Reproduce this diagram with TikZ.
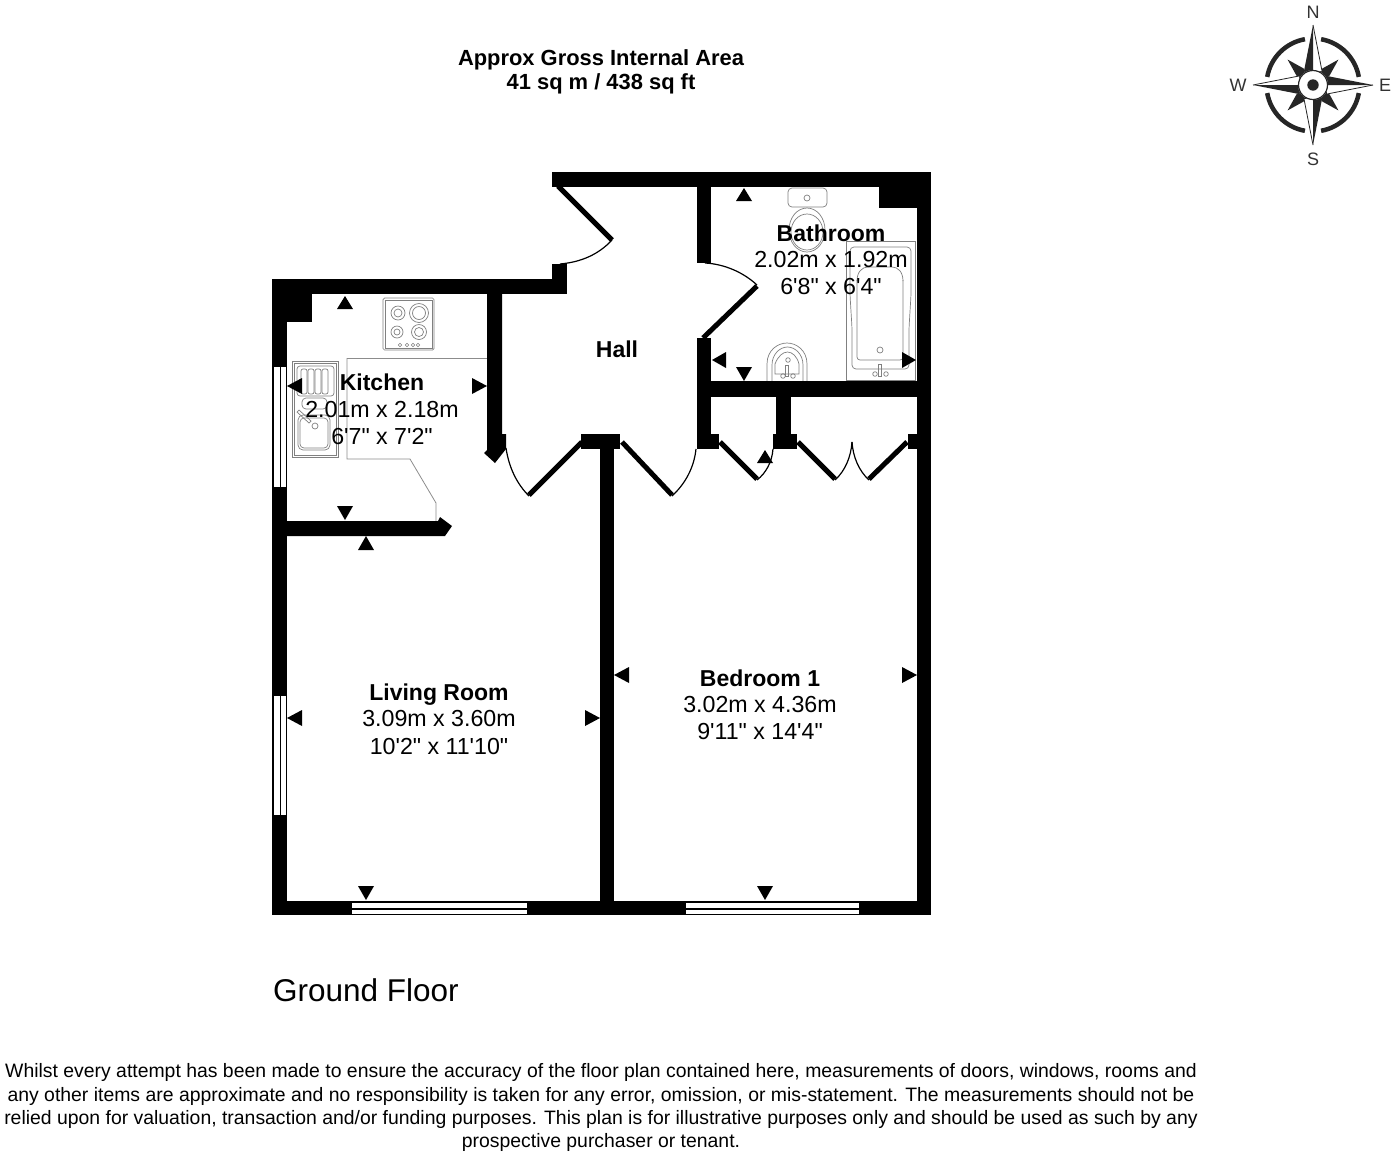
\documentclass[tikz,border=0pt]{standalone}
\usepackage{fontspec}
\setmainfont{Liberation Sans}[Ligatures=TeXOff]
\newcommand{\fs}[1]{\fontsize{#1}{#1}\selectfont}
\newcommand{\mkr}[6]{\fill[marker] (#1,#2) -- (#3,#4) -- (#5,#6) -- cycle;}
\tikzset{
  marker/.style={fill=black},
  wall/.style={fill=black},
  fixture/.style={draw=black!50,line width=0.7pt,fill=none},
  counter/.style={draw=black!45,line width=0.8pt},
  leaf/.style={draw=black,line width=5pt,line cap=butt},
  swing/.style={draw=black,line width=1.2pt},
  glass/.style={fill=white},
  roomname/.style={font=\bfseries\fs{23},anchor=base,inner sep=0pt},
  roomsize/.style={font=\fs{23.2},anchor=base,inner sep=0pt},
  compassletter/.style={font=\fs{18},text=black!80,inner sep=0pt},
  headline/.style={font=\bfseries\fs{21.9},anchor=base,inner sep=0pt},
  fine/.style={font=\fs{19.4},anchor=base,inner sep=0pt},
}
\definecolor{cdark}{HTML}{262626}
\begin{document}
\begin{tikzpicture}[x=1pt,y=-1pt]
\useasboundingbox (0,0) rectangle (1392,1160);
\fill[white] (0,0) rectangle (1392,1160);

% --- fixtures ---
\draw[counter] (347,358) -- (487,358);
\draw[counter] (347,358) -- (347,459) -- (410,459) -- (436,503) -- (436,521);
% hob
\draw[fixture,rounded corners=1.5pt] (383,298) rectangle (434,350);
\draw[fixture] (385,300) rectangle (432,348);
\foreach \cx/\cy/\r in {398/313/7,419/313/9.5,397/332/6,419/332/7.5}{
  \draw[fixture] (\cx,\cy) circle (\r);
  \draw[fixture] (\cx,\cy) circle (\r-3);
}
\foreach \cx in {400,407,413,418}{\draw[fixture,line width=0.5pt] (\cx,345) circle (1.8);}
% sink
\draw[fixture] (292,361) rectangle (338,457);
\draw[fixture] (294,363) rectangle (336,455);
\draw[fixture,rounded corners=3pt] (297,366) rectangle (334,396);
\foreach \rx in {301,308,315,322}{\draw[fixture,rounded corners=2pt] (\rx,369) rectangle (\rx+6,394);}
\draw[fixture,rounded corners=4pt] (302,398) rectangle (327,409);
\draw[fixture,rounded corners=5pt] (298,415) rectangle (330,450);
\draw[fixture,rounded corners=4pt] (300,418) rectangle (328,448);
\draw[fixture] (315,426) circle (3);
\draw[fixture] (297,412) -- (309,423) -- (311,421) -- (299,410) -- cycle;
% toilet
\draw[fixture,rounded corners=4pt] (788,188) rectangle (827,207);
\draw[fixture] (807,198) circle (3);
\draw[fixture] (807,230) ellipse (18 and 22);
\draw[fixture] (807,232) ellipse (16 and 18);
% basin
\draw[fixture] (767,381) -- (767,364) .. controls (767,350) and (778,343) .. (787,343) .. controls (796,343) and (807,350) .. (807,364) -- (807,381);
\draw[fixture] (772,381) -- (772,365) .. controls (772,354) and (780,347) .. (787.5,347) .. controls (795,347) and (803,354) .. (803,365) -- (803,381);
\draw[fixture] (775,374) -- (775,364) .. controls (778,356) and (783,352) .. (787.5,352) .. controls (792,352) and (797,356) .. (799,364) -- (799,374) -- cycle;
\draw[fixture] (788,360) circle (2.3);
\draw[fixture] (785.5,365) rectangle (788.5,376);
\draw[fixture] (783,376) circle (2.3);
\draw[fixture] (793,376) circle (2.3);
% bath
\draw[fixture] (846,241) rectangle (915,380);
\draw[fixture,rounded corners=4pt] (850,247) -- (911,247) -- (911,295) -- (909,328) -- (909,369) -- (852,369) -- (852,328) -- (850,295) -- cycle;
\draw[fixture,rounded corners=3pt] (857,280) -- (857,360) -- (903,360) -- (903,280);
\draw[fixture] (857,281) .. controls (857,272) and (862,267) .. (868,267) -- (892,267) .. controls (898,267) and (903,272) .. (903,281);
\draw[fixture] (880,350) circle (3);
\draw[fixture] (878.5,364) rectangle (881.5,376);
\draw[fixture] (875,374) circle (2.3);
\draw[fixture] (886,374) circle (2.3);

% --- walls ---
\fill[wall] (552,172) rectangle (931,187);
\fill[wall] (917,172) rectangle (931,915);
\fill[wall] (272,901) rectangle (931,915);
\fill[wall] (272,279) rectangle (287,915);
\fill[wall] (272,279) rectangle (567,294);
\fill[wall] (552,264) rectangle (567,294);
\fill[wall] (272,279) rectangle (312,322);
\fill[wall] (879,172) rectangle (931,208);
\fill[wall] (487,279) -- (502,279) -- (502,434) -- (506,434) -- (506,449) -- (495,463) -- (484,453) -- (487,450) -- cycle;
\fill[wall] (697,172) rectangle (711,263);
\fill[wall] (697,338) rectangle (711,449);
\fill[wall] (697,434) rectangle (719,449);
\fill[wall] (697,381) rectangle (931,397);
\fill[wall] (776,381) rectangle (791,449);
\fill[wall] (773,434) rectangle (797,449);
\fill[wall] (908,434) rectangle (931,449);
\fill[wall] (581,434) rectangle (620,449);
\fill[wall] (600,434) rectangle (614,915);
\fill[wall] (287,521) -- (438,521) -- (440,517) -- (452,526) -- (445,536) -- (287,536) -- cycle;

% --- windows ---
\foreach \wa/\wb in {367/487,696/815}{
  \fill[glass] (273.5,\wa) rectangle (279.5,\wb);
  \fill[glass] (281,\wa) rectangle (286,\wb);
}
\foreach \wa/\wb in {352/527,686/859}{
  \fill[glass] (\wa,902.5) rectangle (\wb,908);
  \fill[glass] (\wa,909.5) rectangle (\wb,914);
}

% --- doors ---
\draw[leaf] (558,186) -- (612,240);
\draw[swing] (612,240) .. controls (599,254) and (582,262) .. (560,264);
\draw[leaf] (703,338) -- (757,286);
\draw[swing] (705,263) .. controls (724,264) and (743,272) .. (757,285);
\draw[leaf] (529,495) -- (582,442);
\draw[swing] (506,448) .. controls (509,468) and (517,484) .. (529,496);
\draw[leaf] (622,442) -- (672,495);
\draw[swing] (672,496) .. controls (685,484) and (694,468) .. (696,449);
\draw[leaf] (720,442) -- (757,479);
\draw[swing] (757,480) .. controls (766,473) and (772,462) .. (773,449);
\draw[leaf] (798,442) -- (835,479);
\draw[swing] (835,480) .. controls (845,471) and (851,457) .. (852,442);
\draw[swing] (869,480) .. controls (859,471) and (853,457) .. (852,442);
\draw[leaf] (907,442) -- (869,479);

% --- dimension markers ---
\mkr{345}{296}{337}{309}{353}{309}
\mkr{287}{386}{302}{378}{302}{394}
\mkr{487}{386}{472}{378}{472}{394}
\mkr{345}{520}{337}{506}{353}{506}
\mkr{366}{536}{358}{550}{374}{550}
\mkr{287}{718}{302}{710}{302}{726}
\mkr{600}{718}{585}{710}{585}{726}
\mkr{366}{900}{358}{886}{374}{886}
\mkr{614}{675}{629}{667}{629}{683}
\mkr{917}{675}{902}{667}{902}{683}
\mkr{765}{900}{757}{886}{773}{886}
\mkr{744}{188}{736}{201}{752}{201}
\mkr{712}{360}{726}{352}{726}{368}
\mkr{744}{381}{736}{367}{752}{367}
\mkr{916}{360}{902}{352}{902}{368}
\mkr{765}{450}{757}{463}{773}{463}

% --- texts ---
\node[headline] (t1) at (601,65) {Approx Gross Internal Area};
\node[headline] (t2) at (601,89) {41 sq m / 438 sq ft};
\node[roomname] (k1) at (382,390) {Kitchen};
\node[roomsize] (k2) at (382,417) {2.01m x 2.18m};
\node[roomsize] (k3) at (382,444) {6'7" x 7'2"};
\node[roomname] (b1) at (831,241) {Bathroom};
\node[roomsize] (b2) at (831,267) {2.02m x 1.92m};
\node[roomsize] (b3) at (831,294) {6'8" x 6'4"};
\node[roomname] (h1) at (617,357) {Hall};
\node[roomname] (l1) at (439,700) {Living Room};
\node[roomsize] (l2) at (439,726) {3.09m x 3.60m};
\node[roomsize] (l3) at (439,754) {10'2" x 11'10"};
\node[roomname] (r1) at (760,686) {Bedroom 1};
\node[roomsize] (r2) at (760,712) {3.02m x 4.36m};
\node[roomsize] (r3) at (760,739) {9'11" x 14'4"};
\node[anchor=base west,inner sep=0pt,font=\fs{31.5}] (gf) at (273,1001) {Ground Floor};
\node[fine] (d1) at (601,1077) {Whilst every attempt has been made to ensure the accuracy of the floor plan contained here, measurements of doors, windows, rooms and};
\node[fine] (d2) at (601,1101) {any other items are approximate and no responsibility is taken for any error, omission, or mis-statement. The measurements should not be};
\node[fine] (d3) at (601,1124) {relied upon for valuation, transaction and/or funding purposes. This plan is for illustrative purposes only and should be used as such by any};
\node[fine] (d4) at (601,1147) {prospective purchaser or tenant.};

% --- compass ---
\node[compassletter] (cn) at (1313,12) {N};
\node[compassletter] (cs) at (1313,159) {S};
\node[compassletter] (cw) at (1238,85) {W};
\node[compassletter] (ce) at (1385,85) {E};
\begin{scope}[shift={(1313,85)},x=1pt,y=1pt]
  \foreach \a in {10,100,190,280}{
    \draw[cdark,line width=4.5pt] ({46.5*cos(\a)},{46.5*sin(\a)}) arc[start angle=\a,end angle=\a+70,radius=46.5];
  }
  \foreach \a in {45,135,225,315}{
    \fill[cdark,rotate=\a] (0,36) -- (-8,8) -- (8,8) -- cycle;
  }
  \foreach \a in {0,90,180,270}{
    \begin{scope}[rotate=\a]
      \fill[white] (0,60) -- (9,14) -- (-9,14) -- cycle;
      \fill[cdark] (0,60) -- (-9,14) -- (0,10) -- cycle;
      \draw[cdark,line width=0.8pt,line join=miter] (0,60) -- (9,14);
    \end{scope}
  }
  \fill[white] (0,0) circle (15);
  \draw[cdark,line width=1.2pt] (0,0) circle (14.5);
  \fill[cdark] (0,0) circle (5.7);
\end{scope}
\end{tikzpicture}
\end{document}
